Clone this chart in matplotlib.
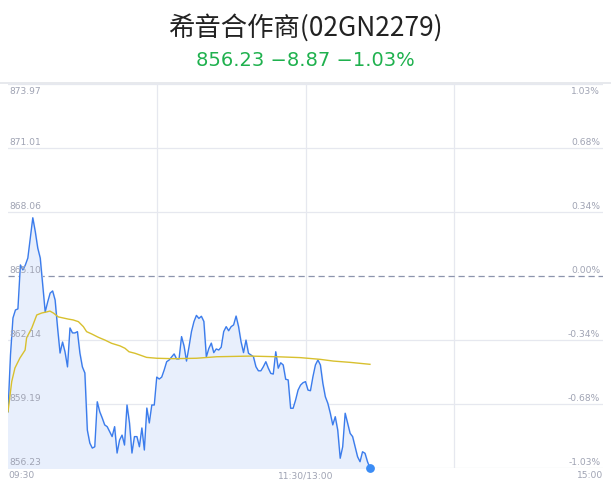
import matplotlib
matplotlib.use("Agg")
import matplotlib.pyplot as plt
import numpy as np

plt.rcParams['font.family'] = ['Noto Sans CJK SC', 'DejaVu Sans']

title = "希音合作商(02GN2279)"
subtitle = "856.23 \u22128.87 \u22121.03%"
prev_close = 865.10
y_ticks = [856.23, 859.19, 862.14, 865.10, 868.06, 871.01, 873.97]
pct_labels = ["-1.03%", "-0.68%", "-0.34%", "0.00%", "0.34%", "0.68%", "1.03%"]
x_labels = ["09:30", "11:30/13:00", "15:00"]
total_minutes = 240

prices = [
    858.83, 861.45, 863.16, 863.53, 863.58, 865.61, 865.38, 865.61, 865.93, 866.86,
    867.79, 867.15, 866.39, 865.93, 864.68, 863.44, 863.90, 864.31, 864.41, 863.99,
    862.70, 861.54, 862.05, 861.59, 860.90, 862.70, 862.47, 862.47, 862.53, 861.54,
    860.90, 860.62, 857.98, 857.38, 857.15, 857.21, 859.29, 858.83, 858.54, 858.22,
    858.14, 857.91, 857.68, 858.14, 856.92, 857.52, 857.75, 857.29, 859.14, 858.31,
    856.92, 857.68, 857.68, 857.21, 858.08, 857.06, 859.00, 858.31, 859.14, 859.14,
    860.43, 860.34, 860.43, 860.76, 861.14, 861.22, 861.36, 861.50, 861.27, 861.27,
    862.30, 861.87, 861.17, 861.82, 862.53, 862.99, 863.28, 863.14, 863.24, 863.00,
    861.36, 861.75, 862.00, 861.56, 861.73, 861.68, 861.81, 862.53, 862.76, 862.57,
    862.76, 862.84, 863.25, 862.76, 862.06, 861.56, 862.14, 861.53, 861.45, 861.37,
    860.91, 860.72, 860.72, 860.91, 861.14, 860.84, 860.60, 860.57, 861.60, 860.84,
    861.09, 860.99, 860.33, 860.30, 858.99, 858.99, 859.37, 859.83, 860.06, 860.17,
    860.22, 859.83, 859.80, 860.45, 860.99, 861.22, 860.99, 860.14, 859.52, 859.22,
    858.76, 858.22, 858.60, 857.98, 856.68, 857.21, 858.76, 858.29, 857.83, 857.68,
    857.21, 856.75, 856.52, 856.98, 856.91, 856.52, 856.23,
]

avg_minutes = [0, 1.5, 2.8, 4.8, 6.9, 7.5, 9.6, 11.6, 13.6, 15.6, 16.9, 18.3, 20.3, 22.3,
               24.3, 26.3, 28.4, 30.4, 31.7, 33.8, 36.4, 39.1, 41.8, 45.2, 47.2, 48.8,
               51.2, 53.2, 55.9, 60, 66.6, 76, 84.2, 97.6, 108.4, 117.8, 125.9, 131.2,
               138, 146]
avg_prices = [858.83, 860.22, 860.85, 861.31, 861.68, 862.24, 862.70, 863.30, 863.39,
              863.44, 863.48, 863.39, 863.21, 863.16, 863.11, 863.07, 862.99, 862.76,
              862.53, 862.42, 862.27, 862.14, 861.99, 861.87, 861.76, 861.60, 861.53,
              861.45, 861.34, 861.30, 861.28, 861.30, 861.37, 861.40, 861.37, 861.33,
              861.25, 861.17, 861.11, 861.02]

fig = plt.figure(figsize=(6.11, 4.92), dpi=100)
ax = fig.add_axes([8/611, 24/492, 595/611, 384/492])

x = np.arange(len(prices))
ymin, ymax = y_ticks[0], y_ticks[-1]
ax.set_xlim(0, total_minutes)
ax.set_ylim(ymin, ymax)

grid_c = "#e6e8ef"
for v in y_ticks:
    if abs(v - prev_close) < 1e-6:
        ax.axhline(v, color="#8c94ad", lw=0.9, ls=(0, (5, 3)), zorder=2)
    else:
        ax.axhline(v, color=grid_c, lw=0.9, zorder=1)
for m in [60, 120, 180]:
    ax.axvline(m, color=grid_c, lw=0.9, zorder=1)

ax.fill_between(x, prices, ymin, color="#e8effc", zorder=2)
ax.plot(x, prices, color="#3b7cec", lw=1.0, zorder=3)
ax.plot(avg_minutes, avg_prices, color="#d8c02e", lw=1.0, zorder=3)
ax.scatter([x[-1]], [prices[-1]], s=28, color="#3b8cf5", zorder=5, clip_on=False)

for s in ax.spines.values():
    s.set_visible(False)
ax.set_xticks([])
ax.set_yticks([])

lab_c = "#9fa3b3"
fs = 6.6
n = len(y_ticks)
for i, (v, p) in enumerate(zip(y_ticks, pct_labels)):
    va = "top" if i == n - 1 else "bottom"
    off = -2 if i == n - 1 else 1
    ax.annotate(f"{v:.2f}", (0, v), xytext=(1, off), textcoords="offset points",
                ha="left", va=va, fontsize=fs, color=lab_c, family="DejaVu Sans")
    ax.annotate(p, (1, v), xycoords=("axes fraction", "data"), xytext=(-2, off),
                textcoords="offset points", ha="right", va=va, fontsize=fs,
                color=lab_c, family="DejaVu Sans")

ax.text(0, -0.008, x_labels[0], transform=ax.transAxes, ha="left", va="top",
        fontsize=fs, color=lab_c, family="DejaVu Sans")
ax.text(0.5, -0.008, x_labels[1], transform=ax.transAxes, ha="center", va="top",
        fontsize=fs, color=lab_c, family="DejaVu Sans")
ax.text(1.0, -0.008, x_labels[2], transform=ax.transAxes, ha="right", va="top",
        fontsize=fs, color=lab_c, family="DejaVu Sans")

fig.add_artist(plt.Line2D([0, 1], [1 - 83/492, 1 - 83/492], color="#e3e5ea", lw=1.2))

fig.text(0.5, 1 - 28/492, title, ha="center", va="center", fontsize=19, color="#222222",
         weight="medium")
fig.text(0.5, 1 - 61/492, subtitle, ha="center", va="center", fontsize=14,
         color="#1fb14e", family=["DejaVu Sans"])

fig.savefig("out.png", dpi=100)
